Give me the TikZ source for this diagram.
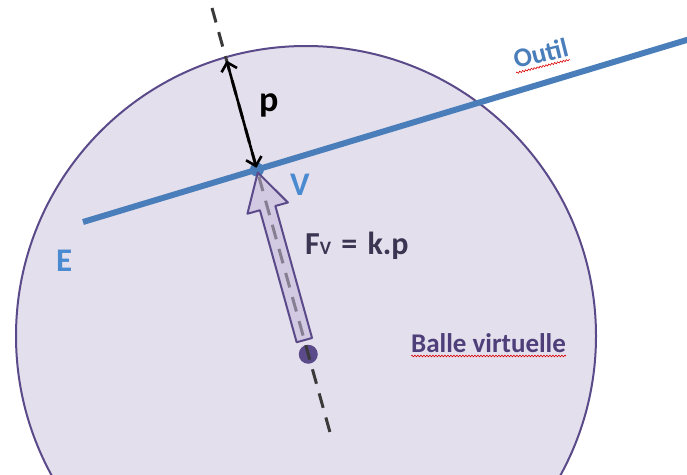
\documentclass[tikz,border=0pt]{standalone}
\usepackage{fontspec}
\setmainfont{Carlito}
\usetikzlibrary{arrows.meta,calc,decorations.pathmorphing}

\definecolor{ballfill}{HTML}{E4DFEC}
\definecolor{balledge}{HTML}{5B4A8A}
\definecolor{arrowfill}{HTML}{C4B8DA}
\definecolor{toolblue}{HTML}{4A7EBB}
\definecolor{labelblue}{HTML}{4A8AD0}
\definecolor{forcetext}{HTML}{3B3552}
\definecolor{balltext}{HTML}{4E3F7A}
\definecolor{axisgray}{HTML}{3A3A3A}

\begin{document}
\begin{tikzpicture}[
  x=1pt, y=-1pt,
  line join=round,
  lbl/.style={inner sep=0pt, anchor=base west, font=\bfseries\fontsize{#1}{#1}\selectfont},
  ball/.style={fill=ballfill, draw=balledge, line width=2pt},
  tool/.style={toolblue, line width=6pt},
  axis/.style={axisgray, line width=3pt, dash pattern=on 15pt off 10pt},
  force/.style={fill=arrowfill, fill opacity=0.55, draw=balledge, line width=2pt},
  gap/.style={black, line width=2.6pt, arrows={Straight Barb[length=8pt,width=16pt]-Straight Barb[length=8pt,width=16pt]}},
  spell/.style={red!85!black, line width=0.6pt, decorate,
    decoration={snake, amplitude=0.9pt, segment length=3pt}}
]
  \useasboundingbox (0,0) rectangle (687,474);
  \clip (0,0) rectangle (687,474);

  % Ball, tool line and normal axis
  \coordinate (O) at (306,336);
  \coordinate (E0) at (83,222);
  \coordinate (E1) at (700,36);
  \coordinate (A0) at (212,8);
  \coordinate (A1) at (331,436);
  \coordinate (V) at (intersection of E0--E1 and A0--A1);
  \coordinate (C) at ($(A0)!0.809!(A1)$);
  \coordinate (rim) at ($(A0)!0.123!(A1)$);

  \draw[ball] (O) circle[radius=290];
  \draw[tool] (E0) -- (E1);
  \fill[toolblue] (V) circle[radius=7];
  \fill[balledge] (C) circle[radius=9.5];
  \draw[axis] (A0) -- (A1);

  % Reaction force, hollow arrow
  \coordinate (tip) at ($(V)!3pt!(A1)$);
  \coordinate (tail) at ($(A0)!0.776!(A1)$);
  \coordinate (hb) at ($(tip)!37pt!(tail)$);
  \draw[force] (tip) -- ($(hb)!21pt!90:(tip)$) -- ($(hb)!8pt!90:(tip)$)
    -- ($(tail)!8pt!90:(hb)$) -- ($(tail)!8pt!-90:(hb)$)
    -- ($(hb)!8pt!-90:(tip)$) -- ($(hb)!21pt!-90:(tip)$) -- cycle;

  % Penetration depth
  \draw[gap] (rim) -- ($(V)!2pt!(A0)$);

  % Labels
  \node[lbl=36] (p) at (259,111) {p};
  \node[lbl=33, text=labelblue] (vlab) at (290,195) {V};
  \node[lbl=33, text=labelblue] (elab) at (56,271) {E};
  \node[lbl=32, text=forcetext] (force) at (305,254)
    {F{\fontsize{19}{19}\selectfont V} \hspace{3pt}= \hspace{3pt}k.p};
  \node[lbl=27, text=balltext] (balle) at (411,352) {Balle virtuelle};
  \node[lbl=27, text=toolblue, rotate=14] (outil) at (516,69) {Outil};
  \draw[spell] ([yshift=-4pt]balle.base west) -- ([yshift=-4pt]balle.base east);
  \draw[spell] ([yshift=-4pt]outil.base west) -- ([yshift=-4pt]outil.base east);
\end{tikzpicture}
\end{document}
